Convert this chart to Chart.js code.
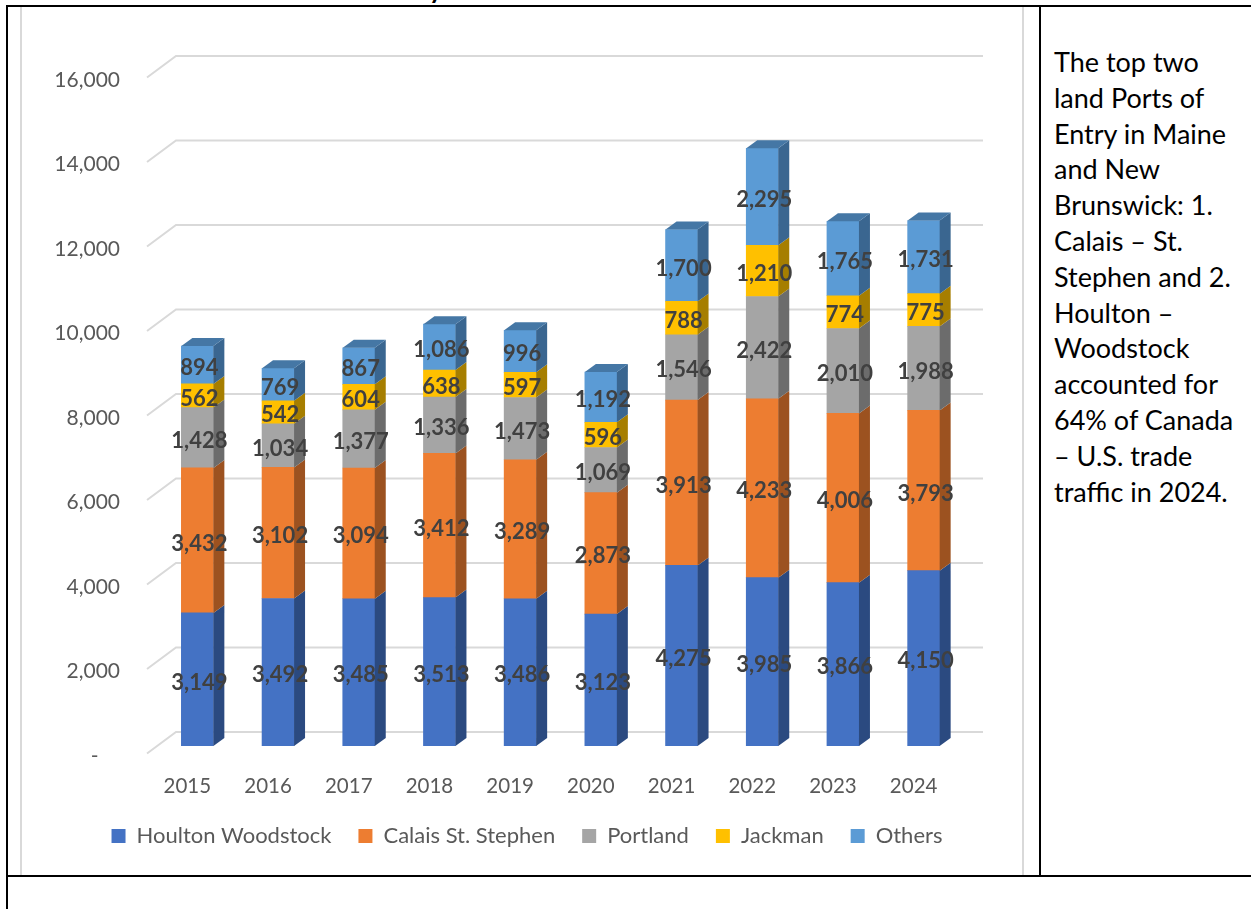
<!DOCTYPE html>
<html lang="en">
<head>
<meta charset="UTF-8">
<title>Land Ports of Entry</title>
<style>
    body { margin: 0; background: #fff; font-family: Lato, sans-serif; overflow: hidden; }
    #page { position: relative; width: 1251px; height: 909px; overflow: hidden; }
    .line { position: absolute; background: #000; }
    #frame { position: absolute; left: 20px; top: 6px; width: 1000px; height: 868px; border: 2px solid #d9d9d9; border-top-width: 1px; }
    #side { position: absolute; left: 1054px; top: 44px; font-size: 27px; line-height: 35.8px; color: #000; white-space: nowrap; }
    #cut { position: absolute; left: 429px; top: -26px; font-size: 26px; line-height: 30px; font-weight: bold; }
    canvas { position: absolute; left: 0; top: 0; }
</style>
</head>
<body>
<div id="page">
    <div id="cut">y</div>
    <div id="frame"></div>
    <div class="line" style="left:6px;top:5px;width:1245px;height:2px"></div>
    <div class="line" style="left:6px;top:5px;width:2px;height:904px"></div>
    <div class="line" style="left:1039px;top:5px;width:2px;height:871px"></div>
    <div class="line" style="left:6px;top:875px;width:1245px;height:2px"></div>
    <canvas id="chart" width="1040" height="876"></canvas>
    <div id="side">The top two<br>land Ports of<br>Entry in Maine<br>and New<br>Brunswick: 1.<br>Calais – St.<br>Stephen and 2.<br>Houlton –<br>Woodstock<br>accounted for<br>64% of Canada<br>– U.S. trade<br>traffic in 2024.</div>
</div>

<script src="https://cdn.jsdelivr.net/npm/chart.js"></script>
<script>
    const years = ['2015', '2016', '2017', '2018', '2019', '2020', '2021', '2022', '2023', '2024'];
    const houlton = [3149, 3492, 3485, 3513, 3486, 3123, 4275, 3985, 3866, 4150];
    const calais = [3432, 3102, 3094, 3412, 3289, 2873, 3913, 4233, 4006, 3793];
    const portland = [1428, 1034, 1377, 1336, 1473, 1069, 1546, 2422, 2010, 1988];
    const jackman = [562, 542, 604, 638, 597, 596, 788, 1210, 774, 775];
    const others = [894, 769, 867, 1086, 996, 1192, 1700, 2295, 1765, 1731];

    const sideColors = ['#2b4a80', '#9c5220', '#6c6c6c', '#a67e00', '#3a6690'];
    const topColor = '#4577a5';
    const depthX = 11, depthY = 8;

    // fake 3d: wall gridlines behind the bars, side and top faces on them
    const fake3d = {
        id: 'fake3d',
        afterLayout(chart) {
            // the y labels need the room on the left, legend still sits over the bars
            chart.legend.left += 25;
            chart.legend.right += 25;
        },
        beforeDatasetsDraw(chart) {
            const { ctx, chartArea, scales } = chart;
            ctx.save();
            ctx.strokeStyle = '#d9d9d9';
            ctx.lineWidth = 2;
            scales.y.ticks.forEach(t => {
                const y = scales.y.getPixelForValue(t.value);
                ctx.beginPath();
                ctx.moveTo(chartArea.left - 10, y + 7.5);
                ctx.lineTo(chartArea.left + 19, y - 14);
                ctx.lineTo(chartArea.right + 19, y - 14);
                ctx.stroke();
            });
            ctx.restore();
        },
        afterDatasetsDraw(chart) {
            const { ctx } = chart;
            const last = chart.data.datasets.length - 1;
            ctx.save();
            chart.data.datasets.forEach((ds, i) => {
                chart.getDatasetMeta(i).data.forEach(bar => {
                    const right = bar.x + bar.width / 2;
                    const left = bar.x - bar.width / 2;
                    ctx.fillStyle = sideColors[i];
                    ctx.beginPath();
                    ctx.moveTo(right, bar.base);
                    ctx.lineTo(right + depthX, bar.base - depthY);
                    ctx.lineTo(right + depthX, bar.y - depthY);
                    ctx.lineTo(right, bar.y);
                    ctx.fill();
                    if (i === last) {
                        ctx.fillStyle = topColor;
                        ctx.beginPath();
                        ctx.moveTo(left, bar.y);
                        ctx.lineTo(left + depthX, bar.y - depthY);
                        ctx.lineTo(right + depthX, bar.y - depthY);
                        ctx.lineTo(right, bar.y);
                        ctx.fill();
                    }
                });
            });
            // value labels
            ctx.font = 'bold 22px Lato';
            ctx.fillStyle = '#404040';
            ctx.textAlign = 'center';
            ctx.textBaseline = 'middle';
            chart.data.datasets.forEach((ds, i) => {
                chart.getDatasetMeta(i).data.forEach((bar, j) => {
                    ctx.fillText(ds.data[j].toLocaleString('en-US'), bar.x + 2, (bar.y + bar.base) / 2 + 3);
                });
            });
            ctx.restore();
        }
    };

    new Chart(document.getElementById('chart'), {
        type: 'bar',
        data: {
            labels: years,
            datasets: [
                { label: 'Houlton Woodstock', data: houlton, backgroundColor: '#4472c4' },
                { label: 'Calais St. Stephen', data: calais, backgroundColor: '#ed7d31' },
                { label: 'Portland', data: portland, backgroundColor: '#a5a5a5' },
                { label: 'Jackman', data: jackman, backgroundColor: '#ffc000' },
                { label: 'Others', data: others, backgroundColor: '#5b9bd5' }
            ]
        },
        plugins: [fake3d],
        options: {
            responsive: false,
            animation: false,
            barThickness: 32,
            layout: { padding: { left: 40, right: 76, top: 70, bottom: 19 } },
            plugins: {
                tooltip: { enabled: false },
                legend: {
                    position: 'bottom',
                    labels: { boxWidth: 14, boxHeight: 14, padding: 27, color: '#595959', font: { family: 'Lato', size: 22 } }
                }
            },
            scales: {
                x: {
                    stacked: true,
                    grid: { display: false },
                    border: { display: false },
                    ticks: { color: '#595959', font: { family: 'Lato', size: 20.5 }, padding: 20, labelOffset: -10, maxRotation: 0 },
                    afterFit(scale) { scale.height = 52; }
                },
                y: {
                    stacked: true,
                    min: 0,
                    max: 16000,
                    grid: { display: false },
                    border: { display: false },
                    ticks: {
                        stepSize: 2000,
                        color: '#595959',
                        font: { family: 'Lato', size: 21 },
                        padding: 29,
                        labelOffset: 10,
                        callback: v => v === 0 ? '-\u00a0\u00a0\u00a0\u00a0' : v.toLocaleString('en-US')
                    },
                    afterFit(scale) { scale.width = 117; }
                }
            }
        }
    });
</script>
</body>
</html>
